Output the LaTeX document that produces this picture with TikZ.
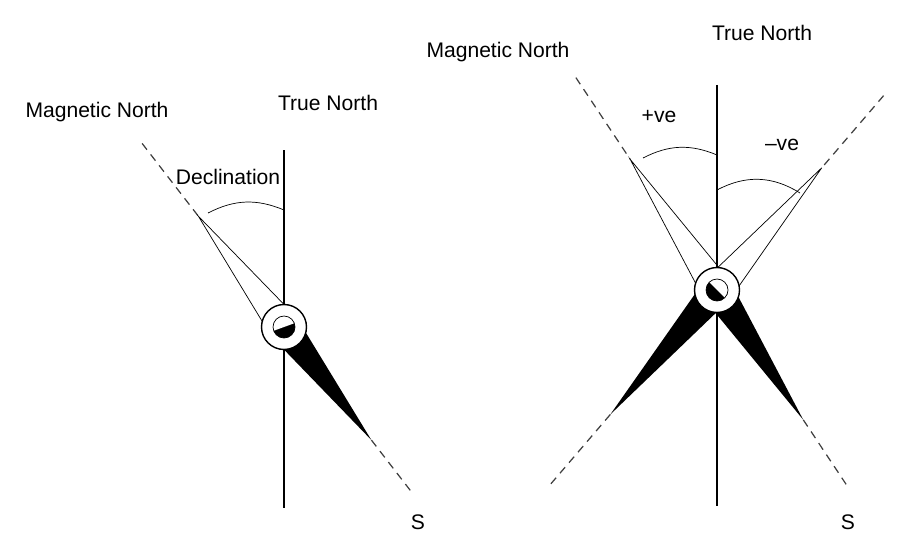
\documentclass[tikz,border=0pt]{standalone}
\usepackage{fontspec}
\setmainfont{Liberation Sans}
\newcommand{\needledraw}[4]{%
  \draw[fill=white] ($(#1)+(#2:#3)$) --
    ($(#1)+(#2+90:9pt)$) -- ($(#1)+(#2-90:9pt)$) -- cycle;
  \fill ($(#1)+(#2+90:9pt)$) -- ($(#1)+(#2+180:#4)$) --
    ($(#1)+(#2-90:9pt)$) -- cycle;
}
\newcommand{\pivotdraw}[2]{%
  \draw[pivotring] (#1) circle[radius=0.45cm];
  \fill (#1) circle[radius=0.22cm];
  \fill[white] ($(#1)+(#2:0.22cm)$) arc[start angle=#2, end angle=#2+180, radius=0.22cm] -- cycle;
  \draw (#1) circle[radius=0.22cm];
}
\usetikzlibrary{
  calc,
  positioning
}

\begin{document}
\begin{tikzpicture}[x=0.02cm, y=0.02cm]

\tikzset{
  lbl/.style={
    font=\fontsize{12}{14}\selectfont,
    inner sep=1pt
  },
  magline/.style={
    dash pattern=on 4.5pt off 3.4pt,
    line width=0.7pt,
    black!75
  },
  trueline/.style={
    line width=0.6pt
  },
  pivotring/.style={
    draw,
    fill=white,
    line width=0.8pt
  },
  line width=0.6pt
}

\useasboundingbox (0,0) rectangle (908,535);

% COORDINATES ------------------------------------------------------

% Left compass
\coordinate (p1)     at (284,208);
\coordinate (tn1top) at (284,385);
\coordinate (tn1bot) at (284,27);
\coordinate (mag1a)  at ($(p1)+(127.7:232)$);
\coordinate (mag1b)  at ($(p1)+(307.7:209)$);
\coordinate (n1)     at ($(p1)+(127.7:140)$);
\coordinate (s1)     at ($(p1)+(307.7:143)$);
\coordinate (d1a)    at (208,322);
\coordinate (d1b)    at (284,325);

% Right compass
\coordinate (p2)     at (717,245);
\coordinate (tn2top) at (717,450);
\coordinate (tn2bot) at (717,29);
\coordinate (mag2a)  at ($(p2)+(123.6:255)$);
\coordinate (mag2b)  at ($(p2)+(303.6:236)$);
\coordinate (pn2)    at ($(p2)+(123.6:157)$);
\coordinate (ps2)    at ($(p2)+(303.6:156)$);
\coordinate (mag3a)  at ($(p2)+(49.4:256)$);
\coordinate (mag3b)  at ($(p2)+(229.4:261)$);
\coordinate (mn2)    at ($(p2)+(49.4:161)$);
\coordinate (ms2)    at ($(p2)+(229.4:164)$);
\coordinate (pa)     at (643,377);
\coordinate (pb)     at (717,380);
\coordinate (ma)     at (717,345);
\coordinate (mb)     at (800,342);

% NODES ----------------------------------------------------------

\node[lbl] (magN1)  at (97,423)  {Magnetic North};
\node[lbl] (trueN1) at (328,432) {True North};
\node[lbl] (decl)   at (228,358) {Declination};
\node[lbl] (south1) at (418,13)  {S};

\node[lbl] (magN2)  at (498,483) {Magnetic North};
\node[lbl] (trueN2) at (762,502) {True North};
\node[lbl] (posve)  at (659,418) {+ve};
\node[lbl] (negve)  at (782,390) {--ve};
\node[lbl] (south2) at (848,13)  {S};

% DRAWS ---------------------------------------------------------

% Left compass: magnetic line, needle, true north, pivot
\draw[magline] (mag1a) -- (n1);
\draw[magline] (s1) -- (mag1b);
\needledraw{p1}{127.7}{140}{143}
\draw[trueline] (tn1top) -- (tn1bot);
\pivotdraw{p1}{20}
\draw (d1a) to[bend left=25] (d1b);

% Right compass: two needles
\draw[magline] (mag2a) -- (pn2);
\draw[magline] (ps2) -- (mag2b);
\draw[magline] (mag3a) -- (mn2);
\draw[magline] (ms2) -- (mag3b);
\needledraw{p2}{123.6}{157}{156}
\needledraw{p2}{49.4}{161}{164}
\draw[trueline] (tn2top) -- (tn2bot);
\pivotdraw{p2}{-45}
\draw (pa) to[bend left=25] (pb);
\draw (ma) to[bend left=30] (mb);

\end{tikzpicture}
\end{document}
